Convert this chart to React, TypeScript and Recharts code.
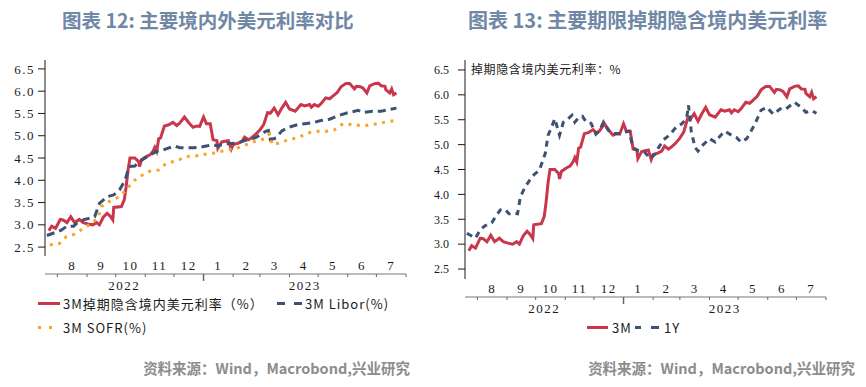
import React from 'react';
import { LineChart, Line, XAxis, YAxis } from 'recharts';

// 横轴：自 2022-07-19 起的天数
const monthStarts = [13, 44, 74, 105, 135, 166, 197, 225, 256, 286, 317, 347, 378];
const monthLabels = ['8', '9', '10', '11', '12', '1', '2', '3', '4', '5', '6', '7'];
const yearLabels = ['2022', '2023'];
const yearBreak = 166;
const xDomain = [0, 378];
const yTicks = [2.5, 3.0, 3.5, 4.0, 4.5, 5.0, 5.5, 6.0, 6.5];

// 3M 掉期隐含境内美元利率
const days3M = [4, 7, 11, 16, 19, 23, 27, 31, 36, 40, 45, 50, 54, 57, 61, 65, 68, 71, 72, 80, 83, 85, 87, 89, 94, 98, 99, 101, 106, 110, 113, 115, 117, 119, 121, 125, 129, 134, 138, 141, 146, 151, 155, 159, 162, 166, 169, 173, 176, 180, 181, 185, 192, 195, 197, 202, 206, 209, 213, 216, 220, 225, 229, 233, 236, 240, 244, 248, 252, 256, 262, 268, 272, 277, 279, 282, 286, 289, 294, 298, 302, 306, 310, 315, 319, 324, 326, 330, 333, 337, 340, 345, 349, 352, 356, 357, 361, 363, 365, 368];
const rate3M = [2.87, 2.97, 2.92, 3.12, 3.11, 3.05, 3.18, 3.05, 3.12, 3.05, 3.02, 3.0, 3.05, 3.0, 3.17, 3.26, 3.2, 3.11, 3.39, 3.41, 3.56, 3.86, 4.24, 4.5, 4.5, 4.42, 4.31, 4.46, 4.53, 4.57, 4.65, 4.74, 4.65, 4.93, 4.95, 5.22, 5.24, 5.3, 5.23, 5.28, 5.42, 5.28, 5.19, 5.22, 5.21, 5.42, 5.27, 5.27, 4.91, 4.89, 4.72, 4.86, 4.89, 4.7, 4.8, 4.83, 4.87, 4.97, 4.91, 4.95, 5.02, 5.13, 5.25, 5.52, 5.51, 5.62, 5.47, 5.62, 5.75, 5.6, 5.55, 5.7, 5.67, 5.7, 5.64, 5.7, 5.66, 5.72, 5.85, 5.83, 5.9, 5.97, 6.1, 6.17, 6.17, 6.05, 6.11, 6.1, 6.07, 5.96, 6.12, 6.17, 6.18, 6.12, 6.11, 6.03, 5.96, 6.05, 5.92, 5.96];

// 3M Libor
const daysLibor = [2, 11, 17, 23, 30, 33, 40, 47, 52, 57, 65, 72, 78, 84, 88, 94, 99, 110, 117, 124, 129, 136, 141, 148, 155, 162, 169, 176, 181, 188, 199, 206, 213, 220, 227, 231, 234, 236, 242, 248, 255, 265, 272, 282, 289, 298, 307, 316, 328, 333, 343, 352, 359, 368];
const rateLibor = [2.76, 2.83, 2.88, 2.97, 2.97, 3.03, 3.11, 3.15, 3.18, 3.48, 3.63, 3.67, 3.78, 4.01, 4.31, 4.32, 4.42, 4.57, 4.65, 4.68, 4.72, 4.77, 4.73, 4.73, 4.73, 4.74, 4.77, 4.8, 4.77, 4.82, 4.83, 4.87, 4.92, 4.95, 5.04, 5.1, 5.12, 4.91, 4.95, 5.11, 5.19, 5.25, 5.27, 5.3, 5.34, 5.37, 5.45, 5.51, 5.57, 5.52, 5.55, 5.55, 5.58, 5.62];

// 3M SOFR
const daysSofr = [5, 15, 22, 31, 40, 49, 56, 59, 67, 77, 85, 92, 99, 109, 119, 127, 138, 148, 159, 169, 180, 190, 201, 211, 222, 230, 235, 238, 244, 249, 258, 267, 277, 286, 295, 303, 312, 323, 333, 343, 355, 366];
const rateSofr = [2.55, 2.58, 2.73, 2.79, 2.92, 3.03, 3.18, 3.41, 3.52, 3.62, 3.78, 3.97, 4.08, 4.2, 4.23, 4.38, 4.44, 4.53, 4.55, 4.59, 4.62, 4.68, 4.72, 4.8, 4.89, 4.93, 5.04, 4.8, 4.83, 4.87, 4.92, 4.98, 5.07, 5.1, 5.1, 5.13, 5.27, 5.25, 5.22, 5.25, 5.3, 5.34];

// 1Y 掉期隐含境内美元利率
const days1Y = [2, 11, 16, 21, 28, 32, 37, 42, 46, 51, 55, 58, 63, 68, 72, 78, 84, 87, 90, 94, 99, 103, 108, 112, 115, 119, 123, 127, 132, 137, 141, 145, 150, 155, 162, 167, 172, 174, 176, 180, 185, 188, 194, 199, 202, 208, 214, 221, 227, 232, 234, 237, 241, 244, 249, 256, 262, 267, 272, 279, 284, 289, 295, 303, 310, 316, 323, 330, 335, 345, 352, 357, 363, 368];
const rate1Y = [3.22, 3.12, 3.29, 3.37, 3.43, 3.55, 3.69, 3.7, 3.61, 3.62, 3.61, 3.95, 4.15, 4.29, 4.39, 4.49, 4.82, 5.19, 5.32, 5.52, 5.19, 5.45, 5.52, 5.59, 5.45, 5.54, 5.57, 5.45, 5.43, 5.21, 5.29, 5.45, 5.29, 5.22, 5.23, 5.25, 5.27, 5.09, 4.94, 4.89, 4.87, 4.85, 4.72, 4.81, 4.92, 5.1, 5.19, 5.35, 5.42, 5.52, 5.79, 5.25, 4.94, 4.87, 4.99, 5.12, 5.05, 5.17, 5.27, 5.19, 5.15, 5.05, 5.12, 5.39, 5.69, 5.75, 5.61, 5.72, 5.7, 5.85, 5.75, 5.65, 5.68, 5.63];

const toPoints = (days: number[], values: number[]) => days.map((d, i) => ({ d, v: values[i] }));
const series3M = toPoints(days3M, rate3M);
const seriesLibor = toPoints(daysLibor, rateLibor);
const seriesSofr = toPoints(daysSofr, rateSofr);
const series1Y = toPoints(days1Y, rate1Y);

const monthMids = monthStarts.slice(0, -1).map((s, i) => (s + monthStarts[i + 1]) / 2);
const yearMids = [(xDomain[0] + yearBreak) / 2, (yearBreak + xDomain[1]) / 2];

const RED = '#c8374b';
const NAVY = '#3d5175';
const ORANGE = '#f5a623';
const CJK = "'Noto Sans CJK SC', sans-serif";
const SERIF = "'Liberation Serif', serif";
const tickText = { fontSize: 13, fill: '#1a1a1a', fontFamily: SERIF, letterSpacing: 1.5 };

// 月份分界刻度，年份分界处更长
const boundaryTick = (p: any) => (
  <line x1={p.x} x2={p.x} y1={p.y} y2={p.y + (p.payload.value === yearBreak ? 7 : 3)}
    stroke="#666" strokeWidth={p.payload.value === yearBreak ? 1.5 : 1} />
);

// 月份、年份标签轴需要挂一条不可见的序列才会被绘制
const timeAxes = () => [
  <XAxis key="t" xAxisId="t" type="number" dataKey="d" domain={xDomain} ticks={monthStarts}
    interval={0} height={4} tickSize={0} tickMargin={0} tickLine={false} tick={boundaryTick}
    stroke="#777" allowDataOverflow />,
  <XAxis key="m" xAxisId="m" type="number" dataKey="d" domain={xDomain} ticks={monthMids} interval={0}
    height={18} tickSize={0} tickMargin={5} axisLine={false} tickLine={false} allowDataOverflow
    tickFormatter={(v: number) => monthLabels[monthMids.indexOf(v)]} tick={tickText} />,
  <XAxis key="y" xAxisId="y" type="number" dataKey="d" domain={xDomain} ticks={yearMids} interval={0}
    height={20} tickSize={0} tickMargin={3} axisLine={false} tickLine={false} allowDataOverflow
    tickFormatter={(v: number) => yearLabels[yearMids.indexOf(v)]} tick={tickText} />,
  <Line key="hm" xAxisId="m" data={series3M} dataKey="v" stroke="none" dot={false}
    activeDot={false} legendType="none" isAnimationActive={false} />,
  <Line key="hy" xAxisId="y" data={series3M} dataKey="v" stroke="none" dot={false}
    activeDot={false} legendType="none" isAnimationActive={false} />,
];

const valueAxis = (width: number, margin: number, tick: object) => (
  <YAxis type="number" domain={[2.3, 6.7]} ticks={yTicks} interval={0} width={width}
    tickSize={7} tickMargin={margin} stroke="#1a1a1a" tick={tick}
    tickFormatter={(v: number) => v.toFixed(1)} />
);

const abs = (style: React.CSSProperties): React.CSSProperties => ({ position: 'absolute', ...style });

const App = () => {
  const title = { fontFamily: CJK, fontWeight: 700, color: '#7088a5', top: 5, whiteSpace: 'nowrap' as const };
  const source = { fontFamily: CJK, fontWeight: 700, fontSize: 14.5, color: '#8c8c8c', top: 357, textAlign: 'right' as const, whiteSpace: 'nowrap' as const };
  const legend = { fontFamily: CJK, fontSize: 13, color: '#1a1a1a', letterSpacing: 1, lineHeight: '13px', whiteSpace: 'nowrap' as const };

  return (
    <div style={abs({ left: 0, top: 0, width: 866, height: 387, background: '#fff', overflow: 'hidden' })}>
      <div style={abs({ ...title, left: 62, fontSize: 19.5 })}>图表 12: 主要境内外美元利率对比</div>
      <div style={abs({ ...title, left: 468, fontSize: 20 })}>图表 13: 主要期限掉期隐含境内美元利率</div>

      {/* 左图：主要境内外美元利率对比 */}
      <div style={abs({ left: 0, top: 0 })}>
        <LineChart width={433} height={387} margin={{ top: 60, right: 27, left: 0, bottom: 89 }}>
          {timeAxes()}
          {valueAxis(45, 3, tickText)}
          <Line xAxisId="t" data={series3M} dataKey="v" type="linear" stroke={RED} strokeWidth={3}
            dot={false} isAnimationActive={false} />
          <Line xAxisId="t" data={seriesLibor} dataKey="v" type="linear" stroke={NAVY} strokeWidth={3}
            strokeDasharray="8 5" dot={false} isAnimationActive={false} />
          <Line xAxisId="t" data={seriesSofr} dataKey="v" type="linear" stroke={ORANGE} strokeWidth={3}
            strokeDasharray="3 5.5" dot={false} isAnimationActive={false} />
        </LineChart>
      </div>

      {/* 右图：3M 与 1Y */}
      <div style={abs({ left: 433, top: 0 })}>
        <LineChart width={433} height={387} margin={{ top: 60, right: 40, left: 0, bottom: 66 }}>
          {timeAxes()}
          {valueAxis(32, 9, { ...tickText, fontSize: 12, letterSpacing: 0 })}
          <Line xAxisId="t" data={series3M} dataKey="v" type="linear" stroke={RED} strokeWidth={3}
            dot={false} isAnimationActive={false} />
          <Line xAxisId="t" data={series1Y} dataKey="v" type="linear" stroke={NAVY} strokeWidth={3}
            strokeDasharray="6 5" dot={false} isAnimationActive={false} />
        </LineChart>
      </div>

      <div style={abs({ ...legend, left: 471, top: 62, fontSize: 12, letterSpacing: 0.6 })}>掉期隐含境内美元利率：%</div>

      {/* 图例 */}
      <div style={abs({ left: 38, top: 302, width: 22, height: 3, background: RED })} />
      <div style={abs({ ...legend, left: 63, top: 297 })}>3M掉期隐含境内美元利率（%）</div>
      <div style={abs({ left: 277, top: 302, width: 8, height: 3, background: NAVY })} />
      <div style={abs({ left: 294, top: 302, width: 8, height: 3, background: NAVY })} />
      <div style={abs({ ...legend, left: 305, top: 297 })}>3M Libor(%)</div>
      <div style={abs({ left: 38, top: 326, width: 3, height: 3, background: ORANGE })} />
      <div style={abs({ left: 49, top: 326, width: 3, height: 3, background: ORANGE })} />
      <div style={abs({ ...legend, left: 63, top: 321 })}>3M SOFR(%)</div>

      <div style={abs({ left: 587, top: 326, width: 21, height: 3, background: RED })} />
      <div style={abs({ ...legend, left: 612, top: 321 })}>3M</div>
      <div style={abs({ left: 635, top: 326, width: 6, height: 3, background: NAVY })} />
      <div style={abs({ left: 651, top: 326, width: 8, height: 3, background: NAVY })} />
      <div style={abs({ ...legend, left: 664, top: 321 })}>1Y</div>

      <div style={abs({ ...source, left: 0, width: 410 })}>资料来源：Wind，Macrobond,兴业研究</div>
      <div style={abs({ ...source, left: 433, width: 422 })}>资料来源：Wind，Macrobond,兴业研究</div>
    </div>
  );
};

export default App;
